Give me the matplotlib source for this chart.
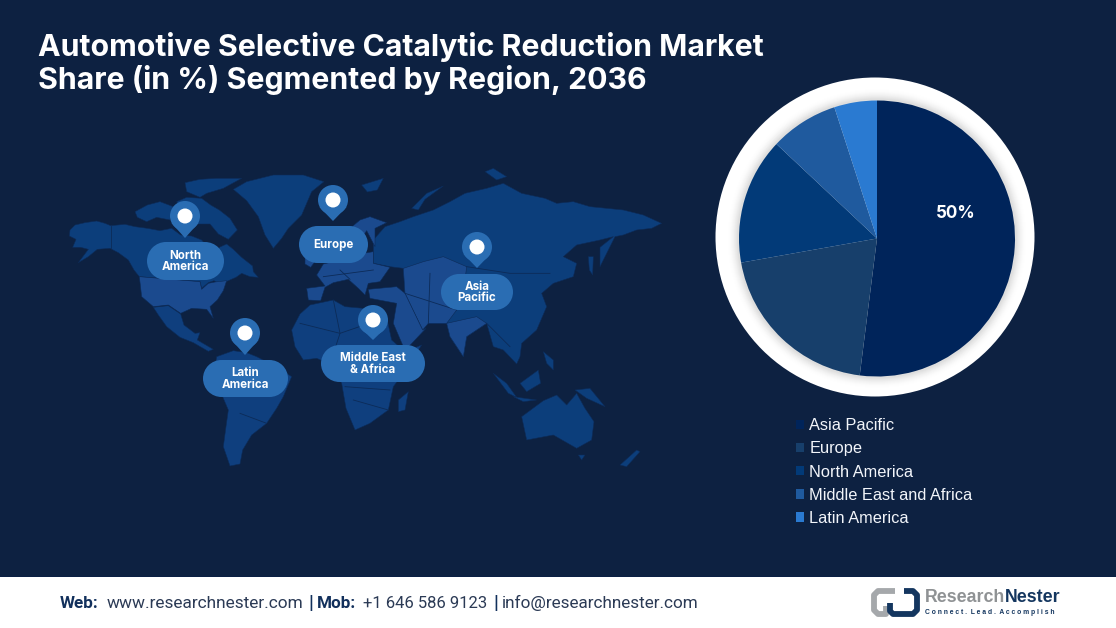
import matplotlib
matplotlib.use("Agg")
import matplotlib.pyplot as plt
from matplotlib.patches import Circle, Polygon, Rectangle

# ---------- chart values ----------
regions = ["Asia Pacific", "Europe", "North America", "Middle East and Africa", "Latin America"]
shares = [52, 20.2, 14.8, 8, 5]
share_label = "50%"
title_lines = ["Automotive Selective Catalytic Reduction Market",
               "Share (in %) Segmented by Region, 2036"]
pie_colors = ["#00245a", "#173f6b", "#023a78", "#1f5a9e", "#2a7ad1"]

# ---------- decoration ----------
BG = "#0d2141"
C_LAND = "#0c3e7b"
C_LAND2 = "#0f3f7e"
C_LIGHT = "#1b4a8e"
C_EDGE = "#0c2b58"
PILL = "#2a6db3"

W, H = 1116, 628


def left(pts):
    return [(60 + x / 3, 160 + y / 3) for x, y in pts]


def right(pts):
    return [(290 + x / 3, 160 + y / 3) for x, y in pts]


LAND = [
    # Alaska and Canada
    (left([(30, 210), (45, 195), (75, 188), (110, 183), (135, 190), (152, 197), (195, 193), (225, 200), (262, 205),
           (300, 212), (335, 205), (362, 225), (395, 228), (425, 240), (445, 262), (470, 285), (478, 262), (500, 252),
           (520, 268), (545, 292), (578, 318), (580, 335), (595, 352), (570, 350), (545, 340), (528, 352), (505, 362),
           (480, 372), (462, 362), (445, 368), (425, 385), (420, 365), (238, 350), (222, 330), (205, 300), (175, 278),
           (150, 265), (112, 268), (85, 290), (55, 308), (85, 268), (62, 262), (38, 262), (48, 238), (28, 228)]), C_LAND),
    # USA
    (left([(238, 350), (420, 365), (425, 388), (445, 370), (465, 366), (500, 362), (490, 392), (472, 420), (450, 440),
           (460, 475), (440, 448), (395, 445), (362, 460), (325, 435), (280, 440), (245, 410)]), C_LIGHT),
    # Mexico and Central America
    (left([(280, 442), (325, 437), (362, 462), (372, 495), (405, 520), (420, 518), (412, 540), (460, 568), (445, 574),
           (400, 548), (360, 532), (320, 500), (295, 465)]), C_LAND2),
    # Arctic islands
    (left([(225, 155), (262, 135), (300, 125), (340, 140), (330, 180), (290, 172), (260, 185), (232, 172)]), C_LAND),
    (left([(375, 68), (420, 58), (470, 55), (545, 55), (490, 85), (440, 100), (420, 112), (380, 95)]), C_LAND),
    (left([(350, 125), (380, 112), (425, 115), (452, 135), (478, 150), (510, 175), (532, 210), (505, 238), (475, 222),
           (450, 192), (400, 192), (372, 170)]), C_LAND),
    # Greenland
    (left([(520, 88), (560, 65), (640, 45), (730, 45), (792, 65), (755, 95), (725, 165), (685, 205), (665, 235),
           (640, 265), (615, 225), (595, 170), (560, 122)]), C_LAND),
    # South America
    (left([(470, 590), (520, 572), (560, 578), (590, 590), (640, 615), (680, 640), (695, 650), (670, 710), (650, 745),
           (620, 790), (575, 825), (548, 870), (540, 912), (510, 918), (490, 860), (498, 800), (505, 750), (475, 680),
           (465, 620)]), C_LAND2),
    # Africa
    (right([(5, 510), (30, 462), (60, 435), (130, 420), (165, 440), (220, 445), (290, 472), (305, 540), (345, 575),
            (395, 555), (340, 640), (310, 680), (295, 750), (240, 790), (195, 810), (168, 745), (155, 670), (120, 612),
            (80, 595), (40, 600), (15, 560)]), C_LAND2),
    (right([(325, 720), (355, 695), (345, 750), (325, 755)]), C_LAND2),
    # Siberia, China and South East Asia
    (right([(250, 240), (285, 200), (330, 185), (370, 170), (430, 150), (480, 125), (525, 100), (590, 85), (640, 70),
            (695, 100), (765, 115), (800, 130), (850, 125), (900, 140), (1000, 150), (1060, 165), (1115, 190), (1085, 205),
            (1040, 210), (1000, 225), (975, 230), (945, 290), (930, 320), (930, 262), (970, 230), (930, 240), (860, 255),
            (820, 290), (860, 310), (850, 350), (790, 370), (755, 400), (770, 440), (740, 510), (695, 550), (690, 590),
            (680, 612), (640, 570), (610, 560), (590, 490), (530, 530), (520, 590), (480, 530), (470, 490), (410, 490),
            (395, 505), (345, 400), (340, 325), (300, 320), (250, 310)]), C_LAND),
    # Central and western Asia
    (right([(340, 325), (400, 305), (460, 290), (530, 320), (520, 400), (500, 450), (470, 490), (415, 490), (398, 510),
            (345, 400)]), C_LIGHT),
    (right([(235, 388), (320, 380), (345, 400), (398, 510), (408, 505), (345, 572), (310, 490), (320, 430), (240, 415)]),
     C_LIGHT),
    (right([(470, 490), (560, 470), (590, 490), (530, 530), (520, 590), (480, 530)]), C_LIGHT),
    # Europe
    (right([(50, 385), (105, 378), (80, 345), (100, 312), (150, 300), (190, 285), (250, 275), (250, 310), (300, 322),
            (270, 365), (235, 370), (225, 405), (205, 385), (175, 358), (130, 368), (105, 382), (92, 422), (55, 420)]),
     C_LIGHT),
    (right([(180, 205), (210, 180), (240, 170), (290, 188), (255, 205), (255, 260), (230, 212), (205, 250), (180, 225)]),
     C_LIGHT),
    (right([(215, 75), (280, 55), (262, 90), (232, 96)]), C_LAND),
    (right([(365, 145), (410, 100), (460, 78), (405, 118), (385, 150)]), C_LAND),
    (right([(585, 35), (610, 25), (650, 50), (620, 60)]), C_LAND),
    (right([(45, 275), (75, 305), (62, 322), (45, 312)]), C_LIGHT),
    # Oceania and the islands of South East Asia
    (right([(695, 770), (760, 722), (800, 705), (830, 735), (860, 700), (885, 745), (912, 785), (905, 840), (860, 865),
            (790, 825), (710, 840)]), C_LAND),
    (right([(990, 915), (1040, 870), (1050, 875), (1010, 920)]), C_LAND),
    (right([(865, 885), (885, 885), (875, 900)]), C_LAND),
    (right([(610, 640), (650, 670), (680, 712), (655, 700)]), C_LAND),
    (right([(670, 710), (740, 720), (700, 725)]), C_LAND),
    (right([(690, 670), (745, 630), (752, 670), (710, 695)]), C_LAND),
    (right([(855, 690), (900, 685), (945, 740), (890, 715)]), C_LAND),
    (right([(760, 575), (790, 600), (790, 630), (770, 610)]), C_LAND),
    (right([(895, 290), (910, 290), (908, 345), (898, 330)]), C_LAND),
]

BORDERS = [
    left([(152, 197), (152, 265)]),
    right([(130, 420), (150, 520), (120, 612)]),
    right([(30, 490), (150, 520), (290, 472)]),
    right([(165, 680), (300, 690)]),
    right([(190, 720), (295, 750)]),
    right([(150, 330), (180, 358)]),
    right([(100, 350), (250, 330)]),
    right([(345, 400), (500, 450)]),
    right([(420, 340), (415, 490)]),
    right([(530, 320), (660, 340), (780, 340)]),
    right([(590, 490), (660, 560)]),
    left([(510, 700), (640, 700)]),
    left([(540, 760), (620, 790)]),
]

PINS = [
    ("North\nAmerica", (147, 242, 224, 280), (185, 216), 238),
    ("Europe", (299, 226, 368, 263), (333, 200), 221),
    ("Asia\nPacific", (441, 274, 513, 310), (477, 247), 268),
    ("Latin\nAmerica", (203, 360, 288, 397), (245, 333), 355),
    ("Middle East\n& Africa", (321, 345, 425, 382), (373, 320), 340),
]

# ---------- figure ----------
fig = plt.figure(figsize=(W / 100, H / 100), dpi=100, facecolor=BG)
bg = fig.add_axes([0, 0, 1, 1])
bg.set_xlim(0, W)
bg.set_ylim(H, 0)
bg.axis("off")

for pts, colour in LAND:
    bg.add_patch(Polygon(pts, closed=True, facecolor=colour, edgecolor=C_EDGE, linewidth=0.4, joinstyle="round"))
for pts in BORDERS:
    bg.plot(*zip(*pts), color=C_EDGE, linewidth=0.6)


def pill(x0, y0, x1, y1, colour, z):
    r = (y1 - y0) / 2
    bg.add_patch(Rectangle((x0 + r, y0), x1 - x0 - 2 * r, y1 - y0, facecolor=colour, edgecolor="none", zorder=z))
    for cx in (x0 + r, x1 - r):
        bg.add_patch(Circle((cx, y0 + r), r, facecolor=colour, edgecolor="none", zorder=z))


# pills and pins
for text, (x0, y0, x1, y1), (cx, cy), tip in PINS:
    pill(x0, y0, x1, y1, PILL, 5)
    bg.add_patch(Circle((cx, cy), 15, facecolor=PILL, edgecolor="none", zorder=5))
    bg.add_patch(Polygon([(cx - 13.5, cy + 7), (cx + 13.5, cy + 7), (cx, tip)], facecolor=PILL,
                         edgecolor="none", zorder=5))
    bg.add_patch(Circle((cx, cy), 7.5, facecolor="white", edgecolor="none", zorder=6))
    bg.text((x0 + x1) / 2, (y0 + y1) / 2 + 0.5, text, color="white", ha="center", va="center", family="Inter",
            fontweight="bold", fontsize=8.3, linespacing=0.92, zorder=7)

# ring around the pie
PIE_X, PIE_Y, PIE_R = 877, 238.5, 138
bg.add_patch(Circle((875, 237), 159.5, facecolor="white", edgecolor="none", zorder=2))
for i in range(12):
    shade = 1.0 - (i / 11) ** 2 * 0.13
    bg.add_patch(Circle((PIE_X, PIE_Y), 151 - i, facecolor=(shade, shade, shade), edgecolor="none", zorder=3))

# pie
ax = fig.add_axes([(PIE_X - PIE_R) / W, 1 - (PIE_Y + PIE_R) / H, 2 * PIE_R / W, 2 * PIE_R / H])
ax.set_facecolor("none")
wedges, _ = ax.pie(shares, colors=pie_colors, startangle=90, counterclock=False, radius=1)
ax.set_xlim(-1, 1)
ax.set_ylim(-1, 1)
ax.text(0.572, 0.18, share_label, color="white", ha="center", va="center", family="Inter",
        fontweight="bold", fontsize=12.3)

# legend
leg = fig.legend(wedges, regions, loc="upper left", bbox_to_anchor=(793 / W, 1 - 415 / H), frameon=False,
                 prop={"family": "Liberation Sans", "size": 11.75}, labelcolor="#f2f5fa", handlelength=0.5,
                 handleheight=0.5, handletextpad=0.3, labelspacing=0.5, borderpad=0.2, borderaxespad=0)

# title
for line, y in zip(title_lines, (47, 80)):
    bg.text(38, y, line, color="white", ha="left", va="center", family="Inter", fontweight="bold", fontsize=21.8)

# footer
bg.add_patch(Rectangle((0, 577), W, 51, facecolor="white", edgecolor="none", zorder=8))
bg.add_patch(Rectangle((0, 575.5), W, 1.5, facecolor="#0a1f44", edgecolor="none", zorder=8))
NAVY = "#12305c"
footer = [(60, "Web:", True, 12.3), (107, "www.researchnester.com", False, 12.4), (308, "|", True, 13.5),
          (317, "Mob:", True, 12.3), (363, "+1 646 586 9123", False, 12.0), (493, "|", True, 13.5),
          (502, "info@researchnester.com", False, 12.35)]
for x, text, strong, size in footer:
    bg.text(x, 603, text, color=NAVY if strong else "#2b3a55", ha="left", va="center", family="Roboto",
            fontweight="bold" if strong else "normal", fontsize=size, zorder=9)

# logo
bg.plot([895, 878, 874, 874, 878, 886, 886], [591, 591, 595, 610, 614, 614, 606], color="#a5a8ab", linewidth=4.2,
        solid_joinstyle="round", solid_capstyle="butt", zorder=9)
bg.plot([904, 913, 917, 917, 913, 893, 890, 890], [591, 591, 595, 610, 614, 614, 611, 603], color="#14365f",
        linewidth=4.2, solid_joinstyle="round", solid_capstyle="butt", zorder=10)
bg.text(925, 598, "Research", color="#8f9294", ha="left", va="center", zorder=9, fontweight="bold",
        family="Liberation Sans", fontsize=12.8)
bg.text(1005, 598, "Nester", color="#14365f", ha="left", va="center", zorder=9, fontweight="bold",
        family="Liberation Sans", fontsize=12.8)
bg.text(925, 613, "C o n n e c t .  L e a d .  A c c o m p l i s h", color="#14365f", ha="left", va="center",
        zorder=9, fontweight="bold", family="Liberation Sans", fontsize=4.9)

fig.savefig("out.png", dpi=100, facecolor=BG)
